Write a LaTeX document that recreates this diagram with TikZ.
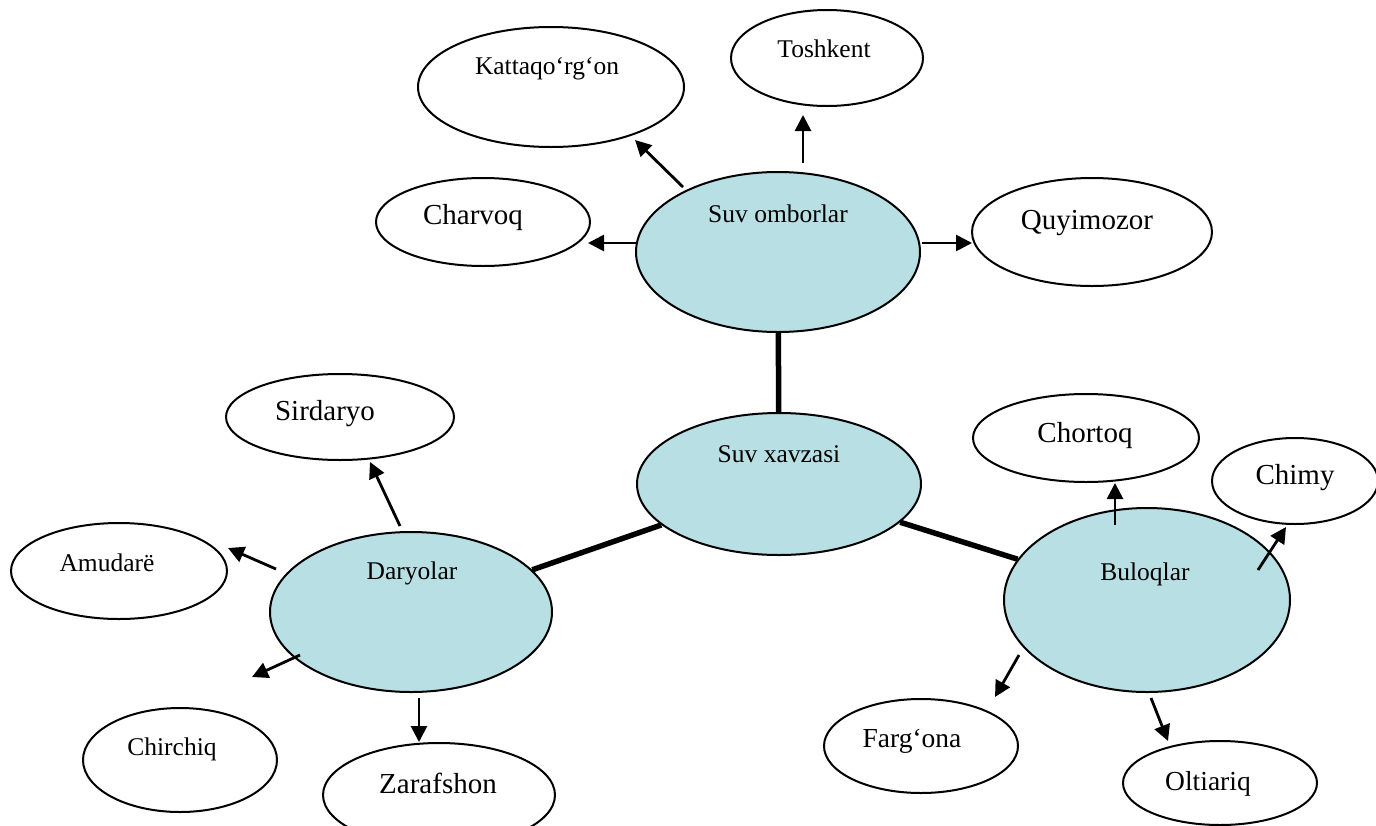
\documentclass[tikz,border=0pt]{standalone}
\usepackage{fontspec}
\setmainfont{Liberation Serif}
\usetikzlibrary{shapes.geometric,arrows.meta}
\definecolor{aqua}{RGB}{184,223,227}
\tikzset{
  oval/.style={ellipse,draw=black,line width=2pt,inner sep=0pt,fill=white},
  hub/.style={oval,fill=aqua},
  small/.style={font=\fontsize{25.5}{30}\selectfont,inner sep=0pt},
  mid/.style={font=\fontsize{27.5}{32}\selectfont,inner sep=0pt},
  big/.style={font=\fontsize{29}{34}\selectfont,inner sep=0pt},
  arr/.style={line width=2.8pt,-{Triangle[length=16pt,width=16pt]}},
  thick link/.style={line width=5.5pt}
}
\begin{document}
\begin{tikzpicture}[x=1pt,y=-1pt]
\useasboundingbox (0,0) rectangle (1376,825);
\clip (0,0) rectangle (1376,825);
\fill[white] (0,0) rectangle (1376,825);
% hubs
\node[hub,minimum width=284pt,minimum height=160pt] (omb) at (778,252) {};
\node[hub,minimum width=284pt,minimum height=142pt] (xav) at (779,484) {};
\node[hub,minimum width=282pt,minimum height=160pt] (dar) at (411,612) {};
\node[hub,minimum width=286pt,minimum height=184pt] (bul) at (1147,600) {};
% outer ovals
\node[oval,minimum width=266pt,minimum height=120pt] (kat) at (551,87) {};
\node[oval,minimum width=192pt,minimum height=96pt] (tosh) at (827,58) {};
\node[oval,minimum width=214pt,minimum height=88pt] (charv) at (483,222) {};
\node[oval,minimum width=240pt,minimum height=108pt] (quy) at (1092,232) {};
\node[oval,minimum width=228pt,minimum height=86pt] (sir) at (340,417) {};
\node[oval,minimum width=216pt,minimum height=96pt] (amu) at (119,571) {};
\node[oval,minimum width=194pt,minimum height=104pt] (chir) at (180,760) {};
\node[oval,minimum width=232pt,minimum height=104pt] (zar) at (439,795) {};
\node[oval,minimum width=226pt,minimum height=88pt] (chort) at (1086,438) {};
\node[oval,minimum width=166pt,minimum height=86pt] (chim) at (1295,481) {};
\node[oval,minimum width=194pt,minimum height=94pt] (farg) at (921,746) {};
\node[oval,minimum width=194pt,minimum height=84pt] (olt) at (1220,783) {};
% labels
\node[small] (tomb) at (778,214) {Suv omborlar};
\node[small] (txav) at (779,454) {Suv xavzasi};
\node[small] (tdar) at (412,573) {Daryolar};
\node[small] (tbul) at (1145,574) {Buloqlar};
\node[small] (tkat) at (547,69) {Kattaqo‘rg‘on};
\node[small] (ttosh) at (824,49) {Toshkent};
\node[big] (tcharv) at (473,218) {Charvoq};
\node[big] (tquy) at (1087,223) {Quyimozor};
\node[big] (tsir) at (325,414) {Sirdaryo};
\node[small] (tamu) at (107,563) {Amudarë};
\node[small] (tchir) at (172,749) {Chirchiq};
\node[big] (tzar) at (438,783) {Zarafshon};
\node[big] (tchort) at (1085,436) {Chortoq};
\node[big] (tchim) at (1295,478) {Chimy};
\node[mid] (tfarg) at (912,741) {Farg‘ona};
\node[mid] (tolt) at (1208,784) {Oltiariq};
% thick links
\draw[thick link] (omb) -- (xav);
\draw[thick link] (dar) -- (xav);
\draw[thick link] (bul) -- (xav);
% arrow end points
\coordinate (a1s) at (683,187); \coordinate (a1e) at (635,140);
\coordinate (a2s) at (803,163); \coordinate (a2e) at (803,115);
\coordinate (a3s) at (637,243); \coordinate (a3e) at (588,243);
\coordinate (a4s) at (922,243); \coordinate (a4e) at (972,243);
\coordinate (b1s) at (400,526); \coordinate (b1e) at (370,462);
\coordinate (b2s) at (276,569); \coordinate (b2e) at (228,548);
\coordinate (b3s) at (300,655); \coordinate (b3e) at (252,677);
\coordinate (b4s) at (419,698); \coordinate (b4e) at (419,742);
\coordinate (c1s) at (1115,525); \coordinate (c1e) at (1115,483);
\coordinate (c2s) at (1258,570); \coordinate (c2e) at (1286,527);
\coordinate (c3s) at (1019,655); \coordinate (c3e) at (995,697);
\coordinate (c4s) at (1151,698); \coordinate (c4e) at (1168,741);
\draw[arr] (a1s) -- (a1e);
\draw[arr] (a2s) -- (a2e);
\draw[arr] (a3s) -- (a3e);
\draw[arr] (a4s) -- (a4e);
\draw[arr] (b1s) -- (b1e);
\draw[arr] (b2s) -- (b2e);
\draw[arr] (b3s) -- (b3e);
\draw[arr] (b4s) -- (b4e);
\draw[arr] (c1s) -- (c1e);
\draw[arr] (c2s) -- (c2e);
\draw[arr] (c3s) -- (c3e);
\draw[arr] (c4s) -- (c4e);
\end{tikzpicture}
\end{document}
